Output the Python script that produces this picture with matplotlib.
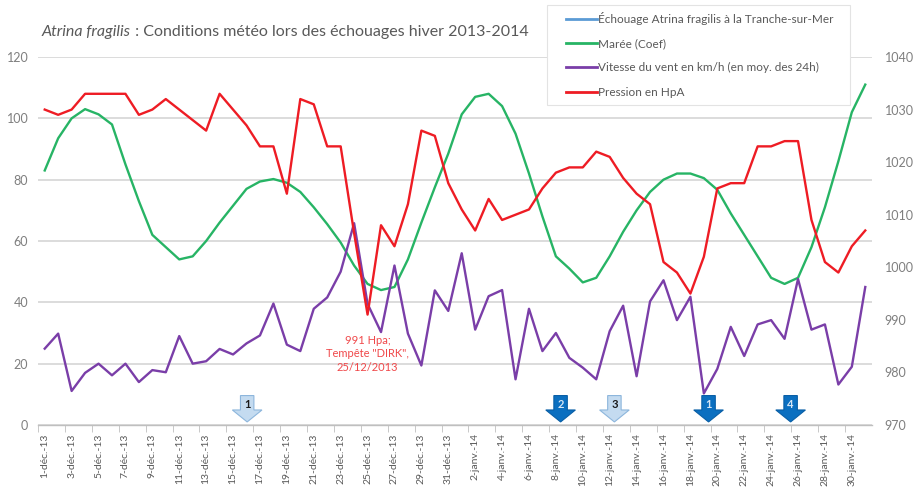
"""
Atrina fragilis : conditions météo lors des échouages, hiver 2013-2014.
Sortie : out.png
"""

import matplotlib

matplotlib.use("Agg")
import matplotlib.pyplot as plt
import pandas as pd
from matplotlib.lines import Line2D
from matplotlib.patches import Polygon, Rectangle
from matplotlib.text import Annotation

plt.rcParams["font.family"] = ["Lato", "DejaVu Sans"]

# Jours du 1-déc-13 au 31-janv-14
DATES = pd.date_range("2013-12-01", "2014-01-31", freq="D")
MOIS = {12: "déc.", 1: "janv."}
DATE_LABELS = [f"{d.day}-{MOIS[d.month]}-{d.strftime('%y')}" for d in DATES]

# Coefficient de marée
MAREE = [
    83, 93.5, 100, 103, 101.3, 98, 85, 73, 62, 58,
    54, 55, 60, 66, 71.5, 77, 79.4, 80.2, 79, 76,
    71, 65.5, 59.5, 52, 46, 44, 45, 54, 66, 77.5,
    88.5, 101.3, 107, 108, 104, 95, 82, 68, 55, 51,
    46.5, 48, 55, 63, 70, 76, 80, 82, 82, 80.5,
    76.7, 69, 62, 55, 48, 46, 48, 58, 71, 86,
    102, 111,
]

# Vitesse du vent en km/h (moyenne des 24h)
VENT = [
    24.9, 29.8, 11.1, 17, 20, 16.2, 20, 14, 17.9, 17.2,
    29, 20, 20.8, 24.8, 23, 26.6, 29.2, 39.6, 26.2, 24.1,
    37.9, 41.6, 50, 65.8, 39.5, 30.3, 52, 29.8, 19.4, 43.9,
    37.2, 56, 31.1, 42, 44, 14.9, 37.9, 24.1, 30, 21.9,
    18.7, 14.9, 30.6, 38.9, 15.9, 40.3, 47.2, 34.2, 41.8, 10.3,
    18.3, 32, 22.5, 32.8, 34.2, 28.1, 47.6, 31.1, 32.8, 13.2,
    19, 45,
]

# Pression en hPa (axe secondaire)
PRESSION = [
    1030, 1029, 1030, 1033, 1033, 1033, 1033, 1029, 1030, 1032,
    1030, 1028, 1026, 1033, 1030, 1027, 1023, 1023, 1014, 1032,
    1031, 1023, 1023, 1006.5, 991, 1008, 1004, 1012, 1026, 1025,
    1016, 1011, 1007, 1013, 1009, 1010, 1011, 1015, 1018, 1019,
    1019, 1022, 1021, 1017, 1014, 1012, 1001, 999, 995, 1002,
    1015, 1016, 1016, 1023, 1023, 1024, 1024, 1009, 1001, 999,
    1004, 1007,
]

# Échouages (position en jours depuis le 1-déc, numéro, flèche foncée ou claire)
ECHOUAGE_JOURS = [15.05, 38.35, 42.35, 49.35, 55.45]
ECHOUAGE_NUMEROS = ["1", "2", "3", "1", "4"]
ECHOUAGE_FONCE = [False, True, False, True, True]

TEMPETE_JOUR = 24
TEMPETE_TEXTE = '991 Hpa;\nTempête "DIRK",\n25/12/2013'

LEGEND_LABELS = [
    "Échouage Atrina fragilis à la Tranche-sur-Mer",
    "Marée (Coef)",
    "Vitesse du vent en km/h (en moy. des 24h)",
    "Pression en HpA",
]

COLOR_BLUE = "#5b9bd5"
COLOR_GREEN = "#27b465"
COLOR_PURPLE = "#7a3ea8"
COLOR_RED = "#ee1c24"
COLOR_TEXT = "#595959"
COLOR_GRID = "#d9d9d9"

W, H = 917, 490


def draw_arrow(ax, x, label, dark):
    stem, head = 0.5, 1.1
    top, shoulder, tip = 9.6, 4.9, 1.0
    pts = [
        (x - stem, top), (x + stem, top), (x + stem, shoulder),
        (x + head, shoulder), (x, tip), (x - head, shoulder),
        (x - stem, shoulder),
    ]
    if dark:
        face, edge, tcol = "#0b6fc0", "#0a5fa6", "#d6e6f5"
    else:
        face, edge, tcol = "#c4dbf0", "#8db6dc", "#1a1a1a"
    ax.add_patch(Polygon(pts, closed=True, facecolor=face, edgecolor=edge,
                         linewidth=0.8, zorder=4))
    ax.text(x, 6.6, label, ha="center", va="center", fontsize=8,
            fontweight="bold", color=tcol, zorder=5)


def main():
    fig = plt.figure(figsize=(W / 100, H / 100), dpi=100)
    ax = fig.add_axes([38 / W, 1 - 425 / H, (872 - 38) / W, (425 - 57) / H])
    ax2 = ax.twinx()

    x = list(range(len(DATES)))
    ax.plot(x, MAREE, color=COLOR_GREEN, lw=1.7, zorder=3)
    ax.plot(x, VENT, color=COLOR_PURPLE, lw=1.7, zorder=3)
    ax2.plot(x, PRESSION, color=COLOR_RED, lw=1.7, zorder=3)

    ax.set_xlim(-0.5, len(x) - 0.5)
    ax.set_ylim(0, 120)
    ax2.set_ylim(970, 1040)
    ax.set_yticks(range(0, 121, 20))
    ax2.set_yticks(range(970, 1041, 10))

    ax.grid(axis="y", color=COLOR_GRID, lw=1.3)
    ax.set_axisbelow(True)

    for side in ("top", "left", "right"):
        ax.spines[side].set_visible(False)
    for side in ("top", "left", "right", "bottom"):
        ax2.spines[side].set_visible(False)
    ax.spines["bottom"].set_color("#bfbfbf")
    ax.spines["bottom"].set_linewidth(1.0)

    ax.set_xticks(x[::2])
    ax.set_xticklabels(DATE_LABELS[::2], rotation=90, fontsize=7.5, color=COLOR_TEXT)
    ax.set_xticks([v - 0.5 for v in x[::2]], minor=True)
    ax.tick_params(axis="x", which="major", length=0, pad=6)
    ax.tick_params(axis="x", which="minor", length=5, color="#bfbfbf", direction="out")
    ax.tick_params(axis="y", length=0, pad=7, labelsize=9, labelcolor="#7f7f7f")
    ax2.tick_params(axis="y", length=0, pad=9, labelsize=9, labelcolor="#7f7f7f")

    for xi, num, dark in zip(ECHOUAGE_JOURS, ECHOUAGE_NUMEROS, ECHOUAGE_FONCE):
        draw_arrow(ax, xi, num, dark)

    ax.text(TEMPETE_JOUR, 23.2, TEMPETE_TEXTE, ha="center", va="center",
            fontsize=8, color="#f0484a", linespacing=1.25, zorder=5)

    t1 = fig.text(42 / W, 1 - 39 / H, "Atrina fragilis", fontsize=11.5,
                  style="italic", color=COLOR_TEXT, va="bottom")
    fig.add_artist(
        Annotation(
            " : Conditions météo lors des échouages hiver 2013-2014",
            xy=(1, 0), xycoords=t1, va="bottom", ha="left",
            fontsize=11.5, color=COLOR_TEXT,
        )
    )

    # cadre de légende (blanc, au-dessus des courbes)
    fig.add_artist(Rectangle(
        (547 / W, 1 - 105 / H), (850 - 547) / W, 100 / H,
        transform=fig.transFigure, facecolor="white", edgecolor="#e3e3e3",
        linewidth=0.8, zorder=5,
    ))
    handles = [
        Line2D([], [], color=COLOR_BLUE, lw=2),
        Line2D([], [], color=COLOR_GREEN, lw=2),
        Line2D([], [], color=COLOR_PURPLE, lw=2),
        Line2D([], [], color=COLOR_RED, lw=2),
    ]
    leg = fig.legend(
        handles, LEGEND_LABELS, loc="upper left",
        bbox_to_anchor=(566 / W, 1 - 12 / H), bbox_transform=fig.transFigure,
        frameon=False, fontsize=8.5, handlelength=2.6, handletextpad=0.15,
        labelspacing=1.12, borderpad=0, borderaxespad=0,
    )
    leg.set_zorder(6)
    for t in leg.get_texts():
        t.set_color(COLOR_TEXT)

    fig.savefig("out.png", dpi=100, facecolor="white")
    plt.close(fig)


if __name__ == "__main__":
    main()
